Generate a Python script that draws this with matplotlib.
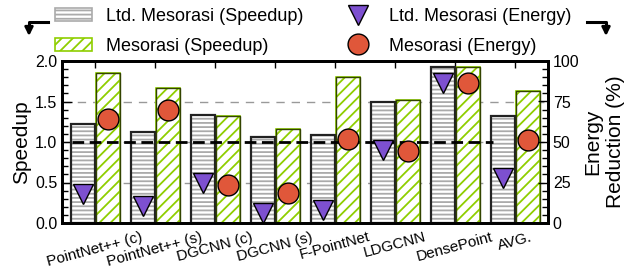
import matplotlib.pyplot as plt
import numpy as np
from matplotlib.ticker import MultipleLocator

plt.rcParams["font.family"] = ["Liberation Sans", "DejaVu Sans"]
plt.rcParams["hatch.linewidth"] = 1.3

benchmarks = ["PointNet++ (c)", "PointNet++ (s)", "DGCNN (c)", "DGCNN (s)",
              "F-PointNet", "LDGCNN", "DensePoint", "AVG."]
ltd_speedup = [1.22, 1.12, 1.33, 1.06, 1.09, 1.50, 1.93, 1.32]
meso_speedup = [1.85, 1.67, 1.32, 1.16, 1.80, 1.52, 1.93, 1.63]
ltd_energy = [17.6, 10.5, 24.5, 6.0, 7.9, 45.0, 86.2, 28.0]
meso_energy = [64.5, 69.6, 23.5, 18.3, 51.6, 44.7, 86.3, 51.1]

green = "#8fce00"
gray = "#aaaaaa"
purple = "#7d50d0"
red = "#e0573a"


def arrow(fig, x0, x1, y0, y1):
    # bent arrow: horizontal from x0 to x1, then down to y1
    fig.add_artist(plt.Line2D([x0 / 627, x1 / 627, x1 / 627],
                              [1 - y0 / 276, 1 - y0 / 276, 1 - (y1 - 7) / 276],
                              transform=fig.transFigure, color="black", linewidth=2.2))
    fig.axes[0].annotate("", xy=(x1 / 627, 1 - y1 / 276), xytext=(x1 / 627, 1 - (y1 - 8) / 276),
                         xycoords="figure fraction", textcoords="figure fraction",
                         arrowprops=dict(arrowstyle="-|>", color="black", lw=2,
                                         mutation_scale=12, shrinkA=0, shrinkB=0))


def main():
    fig = plt.figure(figsize=(6.27, 2.76), dpi=100)
    ax = fig.add_axes([62 / 627, 53 / 276, 486 / 627, 162 / 276])
    ax2 = ax.twinx()

    x = np.arange(len(benchmarks))
    w = 0.39
    xl = x - 0.2
    xm = x + 0.215

    ax.yaxis.grid(True, linestyle=(0, (6, 5)), color="#999999", linewidth=1.0, zorder=0)
    ax.set_axisbelow(True)

    h1 = ax.bar(xl, ltd_speedup, w, color="white", edgecolor=gray, hatch="----",
                linewidth=1.2, zorder=2, label="Ltd. Mesorasi (Speedup)")
    ax.bar(xl, ltd_speedup, w, fill=False, edgecolor="#222222", linewidth=1.6, zorder=3)
    h2 = ax.bar(xm, meso_speedup, w, color="white", edgecolor=green, hatch="///",
                linewidth=1.2, zorder=2, label="Mesorasi (Speedup)")
    ax.bar(xm, meso_speedup, w, fill=False, edgecolor="#334400", linewidth=1.0, zorder=3)

    ax.hlines(1.0, -0.38, 6.64, colors="black", linestyles=(0, (4.2, 2.0)), linewidth=2, zorder=4)

    ax2.set_zorder(ax.get_zorder() + 1)
    ax2.patch.set_visible(False)
    h3, = ax2.plot(xl, ltd_energy, "v", markersize=15, color=purple, markeredgecolor="black",
                   markeredgewidth=1.0, linestyle="none", label="Ltd. Mesorasi (Energy)")
    h4, = ax2.plot(xm, meso_energy, "o", markersize=15, color=red, markeredgecolor="black",
                   markeredgewidth=1.0, linestyle="none", label="Mesorasi (Energy)")

    ax.set_xlim(-0.55, 7.55)
    ax.set_ylim(0, 2.0)
    ax2.set_ylim(0, 100)
    ax.set_xticks(x)
    ax.set_xticklabels(benchmarks, rotation=15, ha="center", fontsize=11)
    ax.yaxis.set_major_locator(MultipleLocator(0.5))
    ax.yaxis.set_minor_locator(MultipleLocator(0.1))
    ax2.yaxis.set_major_locator(MultipleLocator(25))
    ax2.yaxis.set_minor_locator(MultipleLocator(5))

    ax.tick_params(axis="x", direction="in", bottom=False, top=True, length=5, width=1, pad=5)
    ax.tick_params(axis="y", which="major", direction="in", length=7, width=1, labelsize=11.5)
    ax.tick_params(axis="y", which="minor", direction="in", length=4, width=1)
    ax2.tick_params(axis="y", which="major", direction="in", length=7, width=1, labelsize=11.5)
    ax2.tick_params(axis="y", which="minor", direction="in", length=4, width=1)
    ax2.tick_params(axis="x", top=False, bottom=False)
    for sp in ax.spines.values():
        sp.set_linewidth(2)
    for sp in ax2.spines.values():
        sp.set_linewidth(2)

    ax.set_ylabel("Speedup", fontsize=15, labelpad=3)
    ax2.set_ylabel("Energy\nReduction (%)", fontsize=15, labelpad=3)

    fig.legend(handles=[h1, h2], loc="upper left", bbox_to_anchor=(55 / 627, 1 - 8 / 276),
               frameon=False, fontsize=13, handlelength=2.05, handleheight=0.72,
               labelspacing=0.7, handletextpad=0.78, borderpad=0, borderaxespad=0)
    fig.legend(handles=[h3, h4], loc="upper left", bbox_to_anchor=(340 / 627, 1 - 8 / 276),
               frameon=False, fontsize=13, handlelength=2.0, handleheight=0.72,
               labelspacing=0.7, handletextpad=0.72, borderpad=0, borderaxespad=0)

    arrow(fig, 48, 29, 22, 36)
    arrow(fig, 587, 606, 22, 36)

    fig.savefig("out.png", dpi=100)


if __name__ == "__main__":
    main()
